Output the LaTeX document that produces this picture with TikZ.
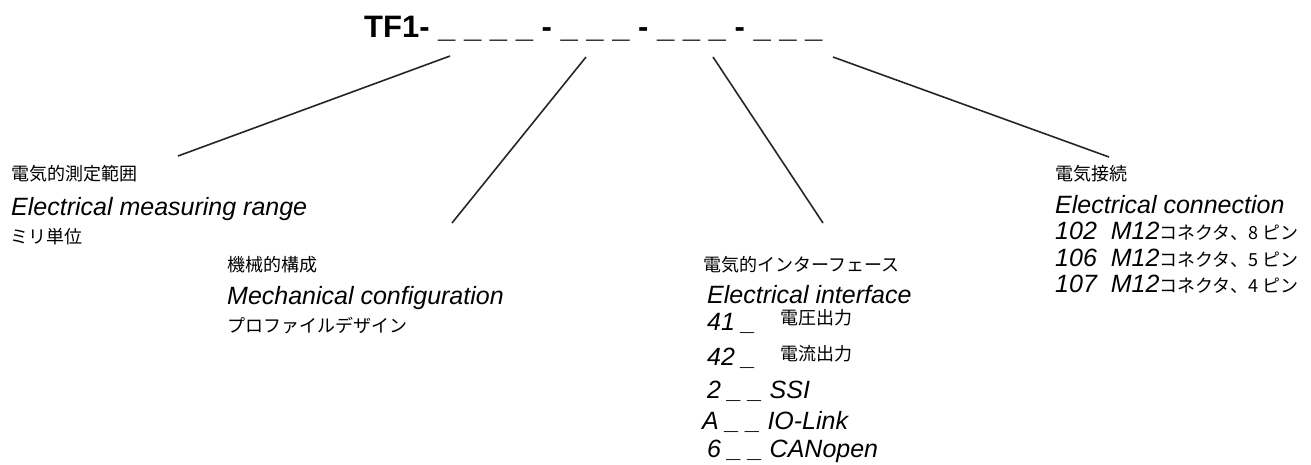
\documentclass[tikz,border=0pt]{standalone}
\usepackage{fontspec}
\setmainfont{Liberation Sans}
\newfontfamily\jpfont{Noto Sans CJK JP}
\newcommand{\jptext}{\upshape\jpfont\fontsize{18}{21}\selectfont}
\tikzset{
    label en/.style={anchor=base west, inner sep=0pt, font=\fontsize{25}{29}\selectfont\itshape},
    label jp/.style={anchor=base west, inner sep=0pt, font=\jptext},
    leadline/.style={line width=1.6pt, black!85},
}

\begin{document}
\begin{tikzpicture}[x=1pt, y=-1pt]
    \useasboundingbox (0,0) rectangle (1311,464);
    \node[anchor=base west, inner sep=0pt, font=\fontsize{31}{36}\selectfont\bfseries] (code) at (364,37)
        {TF1- \_ \_ \_ \_ - \_ \_ \_ - \_ \_ \_ - \_ \_ \_};
    % measuring range
    \node[label jp] (mrjp) at (11,180) {電気的測定範囲};
    \node[label en] (mren) at (11,215) {Electrical measuring range};
    \node[label jp] (mrunit) at (10,243) {ミリ単位};
    % mechanical configuration
    \node[label jp] (mcjp) at (227,271) {機械的構成};
    \node[label en] (mcen) at (227,304) {Mechanical configuration};
    \node[label jp] (mcprof) at (227,332) {プロファイルデザイン};
    % electrical interface
    \node[label jp] (eijp) at (703,271) {電気的インターフェース};
    \node[label en] (eien) at (707,303) {Electrical interface};
    \node[label en] (ei41) at (707,330) {41 \_};
    \node[label jp] (ei41t) at (780,324) {電圧出力};
    \node[label en] (ei42) at (707,365) {42 \_};
    \node[label jp] (ei42t) at (780,360) {電流出力};
    \node[label en] (eissi) at (707,398) {2 \_ \_ SSI};
    \node[label en] (eiio) at (702,429) {A \_ \_ IO-Link};
    \node[label en] (eican) at (707,457) {6 \_ \_ CANopen};
    % electrical connection
    \node[label jp] (ecjp) at (1055,180) {電気接続};
    \node[label en] (ecen) at (1055,213) {Electrical connection};
    \foreach \nr/\pins/\y in {102/8/239, 106/5/266, 107/4/292}
        \node[label en] (ec\nr) at (1055,\y) {\nr\ \ M12{\jptext コネクタ、\pins\ ピン}};
    % lead lines
    \coordinate (mrtop) at (450,56);  \coordinate (mrend) at (178,156);
    \coordinate (mctop) at (586,57);  \coordinate (mcend) at (452,223);
    \coordinate (eitop) at (713,57);  \coordinate (eiend) at (823,223);
    \coordinate (ectop) at (833,57);  \coordinate (ecend) at (1109,157);
    \draw[leadline] (mrtop) -- (mrend);
    \draw[leadline] (mctop) -- (mcend);
    \draw[leadline] (eitop) -- (eiend);
    \draw[leadline] (ectop) -- (ecend);
\end{tikzpicture}
\end{document}
